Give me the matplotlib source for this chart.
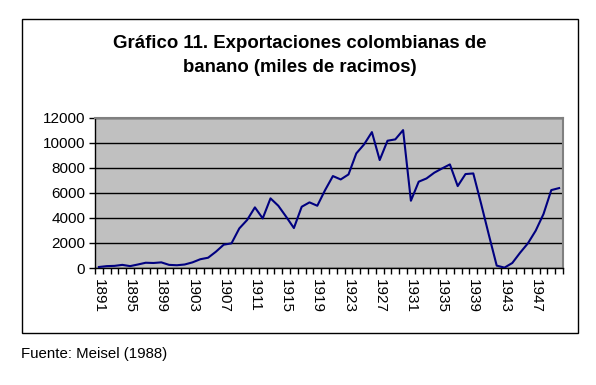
import numpy as np
import matplotlib
matplotlib.use("Agg")
import matplotlib.pyplot as plt
from matplotlib.patches import Rectangle

# Exportaciones colombianas de banano, miles de racimos
years = list(range(1891, 1951))
exports = [80, 150, 170, 250, 150, 280, 420, 400, 450, 250,
           220, 280, 450, 700, 820, 1300, 1860, 1970, 3160, 3830,
           4840, 3960, 5560, 4970, 4100, 3190, 4890, 5240, 4970, 6220,
           7340, 7070, 7470, 9150, 9870, 10850, 8620, 10160, 10270, 11010,
           5370, 6890, 7150, 7610, 7950, 8270, 6540, 7500, 7550, 5130,
           2630, 190, 30, 400, 1220, 1970, 2980, 4310, 6220, 6380]
label_years = years[::4]
yticks = list(range(0, 12001, 2000))

title = "Gráfico 11. Exportaciones colombianas de\nbanano (miles de racimos)"
source = "Fuente: Meisel (1988)"

plt.rcParams["font.family"] = ["Liberation Sans", "DejaVu Sans"]

W, H = 596, 385
fig = plt.figure(figsize=(W / 100, H / 100), dpi=100)

# outer chart frame
fig.patches.append(Rectangle((22 / W, 1 - 333 / H), 556 / W, 314 / H,
                             transform=fig.transFigure, fill=False,
                             edgecolor="black", lw=1.0))

ax = fig.add_axes([95 / W, 1 - 268 / H, 468 / W, 150.3 / H])
ax.set_facecolor("#C0C0C0")
x = np.arange(len(years))
ax.plot(x, exports, color="#000080", lw=1.5, zorder=3)

ax.set_xlim(-0.5, len(years) - 0.5)
ax.set_ylim(0, 12000)
ax.set_yticks(yticks)
ax.yaxis.grid(True, color="black", lw=1.0)
ax.set_axisbelow(True)

# tick marks on category boundaries, labels at category centres
ax.set_xticks(np.arange(-0.5, len(years), 1))
ax.set_xticklabels([])
ax.set_xticks([years.index(y) for y in label_years], minor=True)
ax.set_xticklabels([str(y) for y in label_years], minor=True,
                   rotation=270, va="top", ha="center", fontsize=11)
ax.tick_params(axis="x", which="major", length=4, width=1, direction="out")
ax.tick_params(axis="x", which="minor", length=0, pad=8)
ax.tick_params(axis="y", length=4, width=1, direction="out", labelsize=11, pad=3)

for s in ("top", "right"):
    ax.spines[s].set_color("#808080")
    ax.spines[s].set_linewidth(1.5)
for s in ("left", "bottom"):
    ax.spines[s].set_color("black")
    ax.spines[s].set_linewidth(1.0)

fig.text(300 / W, 1 - 55.5 / H, title, ha="center", va="center",
         fontsize=13.4, fontweight="bold", linespacing=1.5)
fig.text(21 / W, 1 - 354 / H, source, ha="left", va="center", fontsize=10.8)

fig.savefig("out.png", dpi=100)
